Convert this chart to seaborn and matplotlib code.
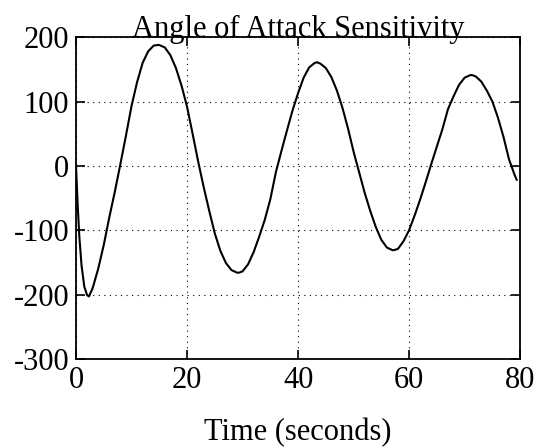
import matplotlib
matplotlib.use("Agg")
import matplotlib.pyplot as plt
import seaborn as sns
import pandas as pd

time_s = [0, 0.3, 0.6, 1.0, 1.5, 2.0, 2.34, 3, 4, 5, 6, 7, 8, 9, 10, 11, 12, 13, 14, 14.95,
          16, 17, 18, 19, 20, 21, 22, 23, 24, 25, 26, 27, 28, 29, 29.4, 30, 31, 32, 33, 34,
          35, 36, 37, 38, 39, 40, 41, 42, 43, 43.4, 44, 45, 46, 47, 48, 49, 50, 51, 52, 53,
          54, 55, 56, 57, 57.3, 58, 59, 60, 61, 62, 63, 64, 65, 66, 67, 68, 69, 70, 71, 71.4,
          72, 73, 74, 75, 76, 77, 78, 79, 79.4]
sensitivity = [0, -60, -110, -155, -188, -201, -203, -190, -160, -123, -80, -40, 3, 47, 93, 130, 160, 178, 187, 188,
               184, 172, 152, 125, 92, 50, 7, -33, -70, -105, -132, -151, -162, -166, -166, -164, -153, -134, -110, -84,
               -52, -10, 23, 55, 86, 113, 137, 153, 160, 161, 159, 152, 138, 117, 90, 58, 22, -10, -42, -70,
               -95, -115, -127, -131, -131, -129, -117, -100, -77, -52, -25, 3, 30, 57, 88, 108, 126, 137, 141, 141,
               139, 131, 117, 100, 75, 45, 10, -14, -22]

x_ticks = [0, 20, 40, 60, 80]
y_ticks = [-300, -200, -100, 0, 100, 200]
title = "Angle of Attack Sensitivity"
x_label = "Time (seconds)"

sns.set_style("ticks")
plt.rcParams["font.family"] = ["Liberation Serif", "DejaVu Serif"]
plt.rcParams["text.color"] = "black"
plt.rcParams["axes.labelcolor"] = "black"
plt.rcParams["xtick.color"] = "black"
plt.rcParams["ytick.color"] = "black"

df = pd.DataFrame({"t": time_s, "v": sensitivity})

fig = plt.figure(figsize=(5.39, 4.48), dpi=100)
ax = fig.add_axes([0.141, 0.199, 0.824, 0.718])
sns.lineplot(data=df, x="t", y="v", ax=ax, color="black", linewidth=1.5, sort=False)

ax.set_xlim(0, 80)
ax.set_ylim(-300, 200)
ax.set_xticks(x_ticks)
ax.set_yticks(y_ticks)
ax.set_xticklabels([str(v) for v in x_ticks])
ax.set_yticklabels([str(v) for v in y_ticks])
ax.grid(True, linestyle=(0, (1, 4)), color="black", linewidth=0.8)
ax.tick_params(direction="in", length=6.5, width=1.2, top=True, right=True,
               labelsize=22, pad=5, colors="black", labelcolor="black")
for s in ax.spines.values():
    s.set_linewidth(1.3)
    s.set_color("black")
ax.set_title(title, fontsize=22, pad=0, color="black")
ax.set_xlabel(x_label, fontsize=22, labelpad=17, color="black")
ax.set_ylabel("")

fig.savefig("out.png", dpi=100)
